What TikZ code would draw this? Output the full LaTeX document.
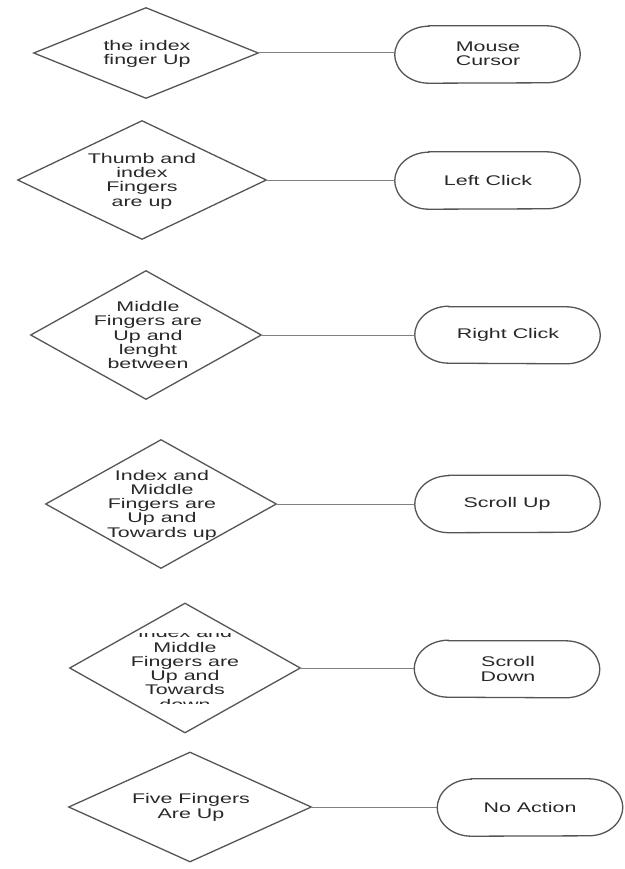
\documentclass[tikz,border=0pt]{standalone}
\usepackage{fontspec}
\setmainfont{Liberation Sans}[FakeStretch=1.53]
\usetikzlibrary{shapes.geometric}
\definecolor{edgecol}{HTML}{555555}
\definecolor{linecol}{HTML}{808080}
\definecolor{txtcol}{HTML}{282828}
\tikzset{
  decision/.style={shape=diamond, draw=edgecol, line width=1.3pt, inner sep=0pt,
    minimum width=#1},
  txt/.style={align=center, text=txtcol, inner sep=0pt,
    font=\fontsize{14pt}{14.3pt}\selectfont},
  termbox/.style={draw=none, minimum width=185pt, minimum height=57pt, inner sep=0pt},
  termline/.style={draw=edgecol, line width=1.3pt},
  conn/.style={draw=linecol, line width=1pt}
}
\newcommand\drawterm[1]{%
  \draw[termline] ([xshift=34pt]#1.north west) -- ([xshift=-34pt]#1.north east)
    arc[start angle=90, end angle=-90, x radius=34pt, y radius=28.5pt]
    -- ([xshift=34pt]#1.south west)
    arc[start angle=270, end angle=90, x radius=34pt, y radius=28.5pt] -- cycle;}
\begin{document}
\begin{tikzpicture}[x=1pt, y=-1pt]
\useasboundingbox (0,0) rectangle (624,869);
% decisions
\node[decision=225pt, minimum height=91pt] (d1) at (146,53) {};
\node[txt] (d1t) at (147,54) {the index\\finger Up};
\node[decision=249pt, minimum height=119pt] (d2) at (142,180) {};
\node[txt] (d2t) at (142,181) {Thumb and\\index\\Fingers\\are up};
\node[decision=231pt, minimum height=129pt] (d3) at (146,335) {};
\node[txt] (d3t) at (148,335) {Middle\\Fingers are\\Up and\\lenght\\between};
\node[decision=231pt, minimum height=129pt] (d4) at (161,504) {};
\node[txt] (d4t) at (162,505) {Index and\\Middle\\Fingers are\\Up and\\Towards up};
\node[decision=231pt, minimum height=130pt] (d5) at (185,668) {};
\begin{scope}
\clip (100,633.5) rectangle (270,703.5);
\node[txt] (d5t) at (185,668.5) {Index and\\Middle\\Fingers are\\Up and\\Towards\\down};
\end{scope}
\node[decision=243pt, minimum height=110pt] (d6) at (190,807) {};
\node[txt] (d6t) at (191,807.5) {Five Fingers\\Are Up};
% terminals
\node[termbox] (t1) at (487.5,54.5) {};
\node[txt] (t1t) at (488,54) {Mouse\\Cursor};
\node[termbox] (t2) at (487.5,180.5) {};
\node[txt] (t2t) at (488,180) {Left Click};
\node[termbox, minimum height=56pt] (t3) at (507.5,335) {};
\node[txt] (t3t) at (508,335) {Right Click};
\node[termbox] (t4) at (507.5,504) {};
\node[txt] (t4t) at (507,504) {Scroll Up};
\node[termbox, minimum height=56pt] (t5) at (507,669) {};
\node[txt] (t5t) at (508,669) {Scroll\\Down};
\node[termbox] (t6) at (530,807.5) {};
\node[txt] (t6t) at (530,807) {No Action};
\drawterm{t1}\drawterm{t2}\drawterm{t3}\drawterm{t4}\drawterm{t5}\drawterm{t6}
% connectors
\draw[conn] (d1.east) -- (d1.east -| t1.west);
\draw[conn] (d2.east) -- (d2.east -| t2.west);
\draw[conn] (d3.east) -- (d3.east -| t3.west);
\draw[conn] (d4.east) -- (d4.east -| t4.west);
\draw[conn] (d5.east) -- (d5.east -| t5.west);
\draw[conn] (d6.east) -- (d6.east -| t6.west);
\end{tikzpicture}
\end{document}
